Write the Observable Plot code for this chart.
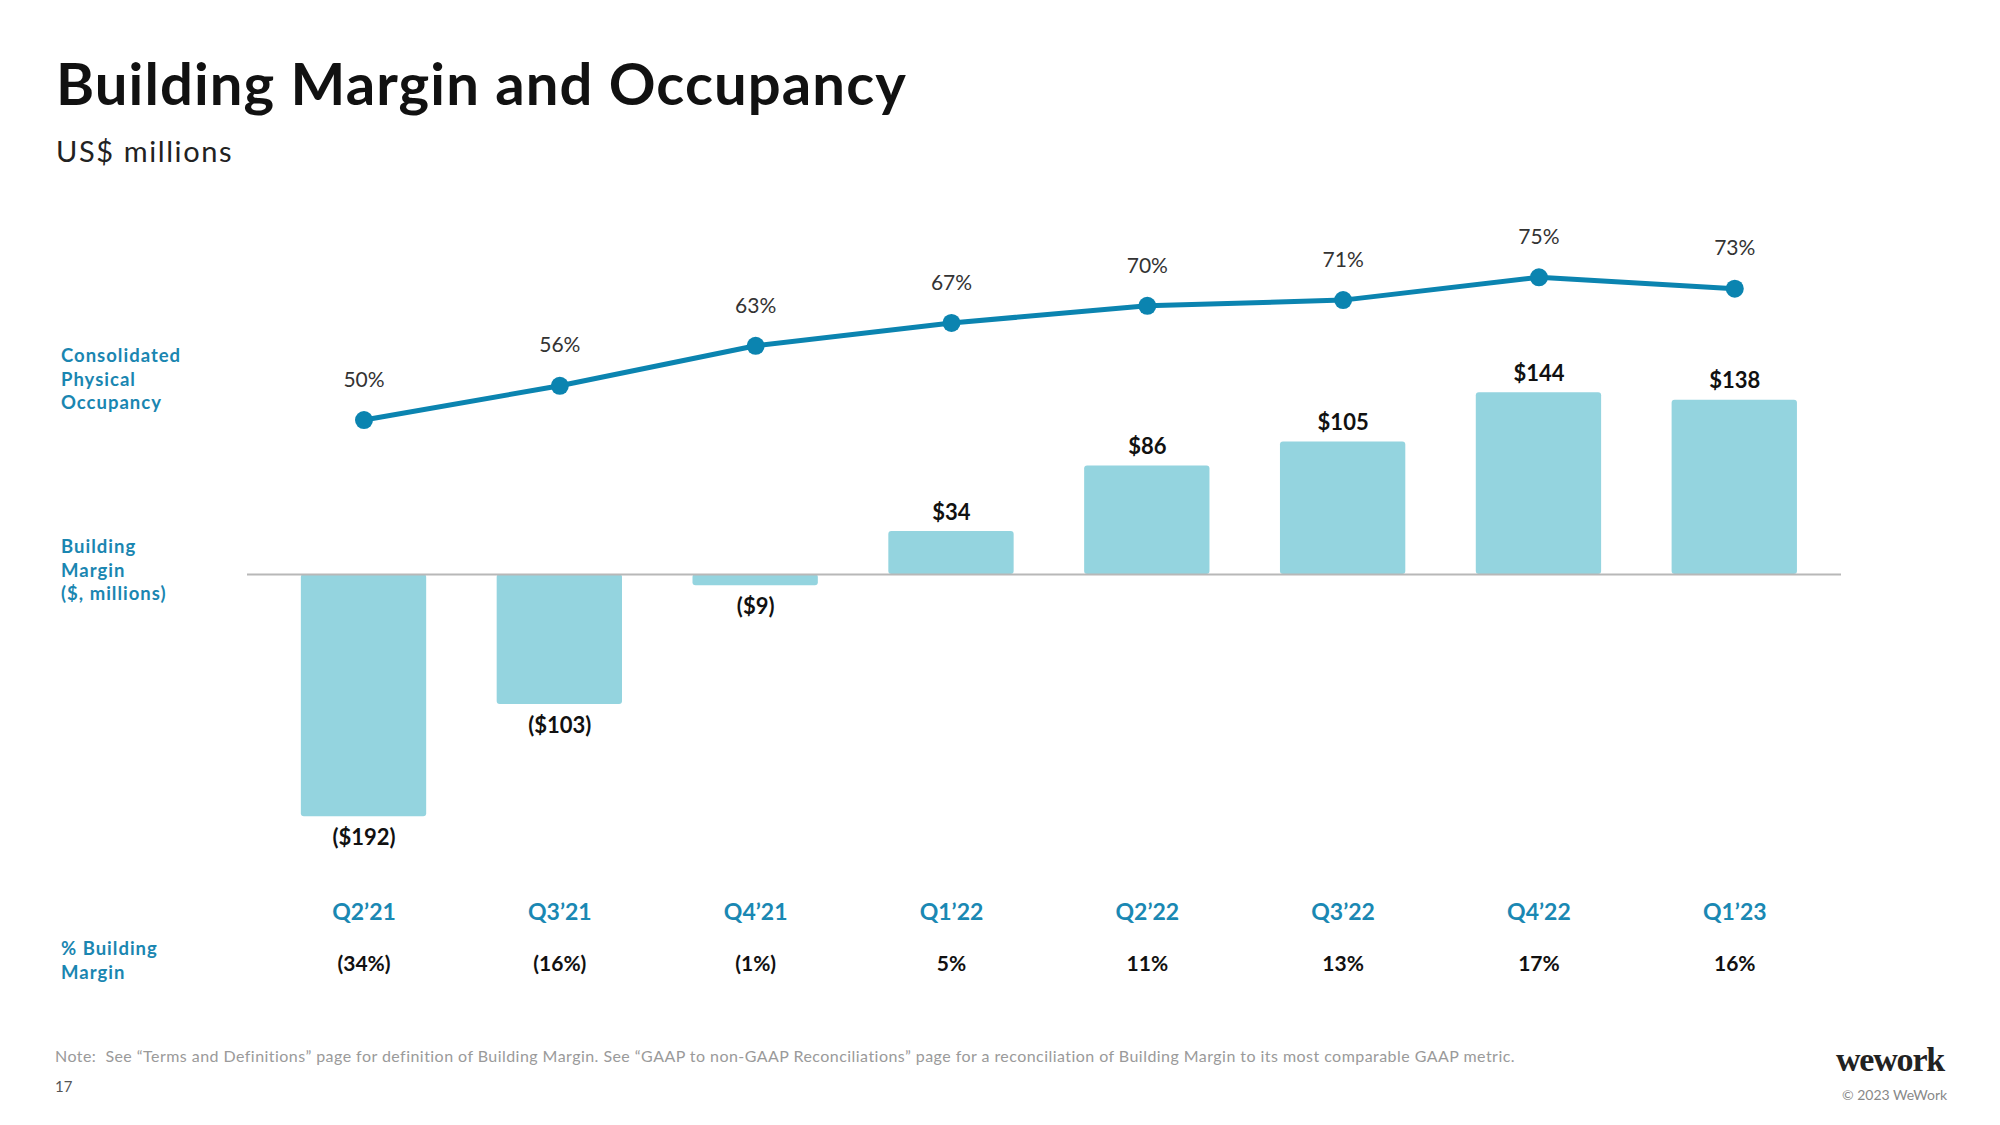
<!DOCTYPE html>
<html>
<head>
<meta charset="utf-8">
<script src="https://cdn.jsdelivr.net/npm/d3@7"></script>
<script src="https://cdn.jsdelivr.net/npm/@observablehq/plot@0.6"></script>
<style>
  html, body { margin: 0; padding: 0; background: #ffffff; }
  #page { position: relative; width: 2000px; height: 1125px; overflow: hidden; font-family: Lato, "Noto Sans", sans-serif; }
  .abs { position: absolute; white-space: nowrap; }
  #title { left: 56px; top: 54px; font-size: 58px; line-height: 58px; font-weight: 700; color: #111; letter-spacing: 1.1px; }
  #subtitle { left: 56px; top: 136px; font-size: 29px; line-height: 29px; color: #222; letter-spacing: 1.6px; }
  .side { left: 61px; font-size: 18.5px; line-height: 23.5px; font-weight: 700; color: #1a86b1; letter-spacing: 1px; }
  #note { left: 55px; top: 1046px; font-size: 16px; color: #9a9a9a; letter-spacing: 0.45px; }
  #pagenum { left: 55px; top: 1077px; font-size: 15px; color: #555; }
  #logo { left: 1836px; top: 1041px; font-family: "Liberation Serif", "DejaVu Serif", serif; font-weight: 700; font-size: 34px; letter-spacing: -1.2px; color: #222; }
  #copy { left: 1842px; top: 1086px; font-size: 14px; color: #888; }
  .chart { position: absolute; left: 0; top: 200px; }
</style>
</head>
<body>
<div id="page">
  <div id="title" class="abs">Building Margin and Occupancy</div>
  <div id="subtitle" class="abs">US$ millions</div>
  <div class="abs side" style="top:344px">Consolidated<br>Physical<br>Occupancy</div>
  <div class="abs side" style="top:535px">Building<br>Margin<br>($, millions)</div>
  <div class="abs side" style="top:937px">% Building<br>Margin</div>
  <div id="note" class="abs">Note:&nbsp; See “Terms and Definitions” page for definition of Building Margin. See “GAAP to non-GAAP Reconciliations” page for a reconciliation of Building Margin to its most comparable GAAP metric.</div>
  <div id="pagenum" class="abs">17</div>
  <div id="logo" class="abs">wework</div>
  <div id="copy" class="abs">© 2023 WeWork</div>
  <div id="bars" class="chart"></div>
  <div id="line" class="chart"></div>
</div>
<script>
// ---- data ----
const quarters = ["Q2’21", "Q3’21", "Q4’21", "Q1’22", "Q2’22", "Q3’22", "Q4’22", "Q1’23"];
const buildingMargin = [-192, -103, -9, 34, 86, 105, 144, 138];
const occupancy = [50, 56, 63, 67, 70, 71, 75, 73];
const marginPct = [-34, -16, -1, 5, 11, 13, 17, 16];

const rows = quarters.map((q, i) => ({q, m: buildingMargin[i], occ: occupancy[i], pct: marginPct[i]}));
const money = v => v < 0 ? `($${-v})` : `$${v}`;
const pctFmt = v => v < 0 ? `(${-v}%)` : `${v}%`;

const FONT = "Lato, 'Noto Sans', sans-serif";
const common = {
  width: 2000, height: 800,
  marginTop: 58.5, marginBottom: 123.1, marginLeft: 247, marginRight: 159,
  style: {background: "transparent", fontFamily: FONT, overflow: "visible"}
};
const xOpts = {type: "band", domain: quarters, paddingInner: 0.36, paddingOuter: 0.25, align: 0.55, round: false, label: null};

const bars = Plot.plot({
  ...common,
  x: {...xOpts},
  y: {domain: [-240, 250], axis: null},
  marks: [
    Plot.barY(rows, {x: "q", y: "m", fill: "#94d4df", rx: 3}),
    Plot.ruleY([0], {stroke: "#b8b8b8", strokeWidth: 2}),
    Plot.text(rows.filter(d => d.m >= 0), {x: "q", y: "m", text: d => money(d.m), dy: -19, fontSize: 22, fontWeight: 700, fill: "#111"}),
    Plot.text(rows.filter(d => d.m < 0), {x: "q", y: "m", text: d => money(d.m), dy: 21, fontSize: 22, fontWeight: 700, fill: "#111"}),
    Plot.axisX({tickSize: 0, tickPadding: 26, fontSize: 23, fontWeight: 700, fill: "#1a88b3", label: null}),
    Plot.text(rows, {x: "q", text: d => pctFmt(d.pct), frameAnchor: "bottom", dy: 94, fontSize: 21, fontWeight: 700, fill: "#111"})
  ]
});
document.getElementById("bars").appendChild(bars);

const line = Plot.plot({
  ...common,
  x: {...xOpts, axis: null},
  y: {domain: [-30.1, 78.2], axis: null},
  marks: [
    Plot.lineY(rows, {x: "q", y: "occ", stroke: "#0b84b0", strokeWidth: 5}),
    Plot.dot(rows, {x: "q", y: "occ", r: 9, fill: "#0b84b0", stroke: "none"}),
    Plot.text(rows, {x: "q", y: "occ", text: d => d.occ + "%", dy: -40, fontSize: 21, fill: "#333"})
  ]
});
document.getElementById("line").appendChild(line);
</script>
</body>
</html>
